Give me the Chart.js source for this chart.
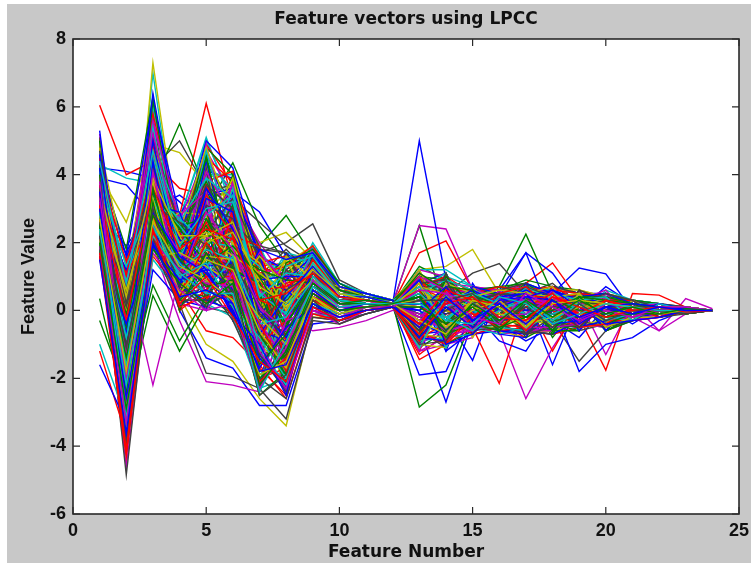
<!DOCTYPE html>
<html>
<head>
<meta charset="utf-8">
<script src="https://cdn.jsdelivr.net/npm/chart.js@4"></script>
<style>
html, body { margin: 0; padding: 0; background: #fff; overflow: hidden; }
canvas { position: absolute; left: 7px; top: 4px; filter: blur(0.4px); }
</style>
</head>
<body>
<canvas id="lpcc-chart" width="744" height="559"></canvas>
<script>
const featureNumbers = [1,2,3,4,5,6,7,8,9,10,11,12,13,14,15,16,17,18,19,20,21,22,23,24];
const xTickValues = [0,5,10,15,20,25];
const yTickValues = [-6,-4,-2,0,2,4,6,8];
const lineColors = ['#0000ff','#008000','#ff0000','#00bfbf','#bf00bf','#bfbf00','#404040'];

// lower body, short peaks
const lowLines = [
[1.5,-3.6,2.0,0.4,0.6,0.2,-1.8,-1.6,0.2,-0.2,0.0,0.1,-0.5,0.4,-0.3,0.2,-0.4,0.3,-0.2,0.1,-0.1,0.1,0.0,0.0],
[2.0,-2.9,1.8,0.8,0.2,0.8,-2.2,-1.2,0.5,0.0,0.1,0.2,0.4,-0.6,0.2,-0.3,0.3,-0.2,0.3,-0.1,0.1,-0.1,0.05,0.0],
[1.7,-4.1,2.4,0.2,1.0,-0.2,-1.5,-2.1,0.1,-0.3,0.0,0.1,-0.7,0.2,0.4,-0.2,-0.3,0.4,0.1,-0.2,0.0,0.1,-0.05,0.0],
[2.4,-2.2,2.2,1.1,0.5,0.5,-2.4,-0.9,0.7,0.1,0.2,0.2,0.2,-0.3,-0.4,0.4,0.2,-0.4,-0.1,0.2,0.1,0.0,0.0,0.0],
[1.9,-3.3,1.7,0.6,0.0,1.1,-1.2,-2.3,0.0,-0.2,0.1,0.1,0.6,0.5,-0.2,-0.4,0.5,0.1,-0.3,0.0,-0.2,0.1,0.1,0.0],
[2.7,-1.8,2.6,1.3,0.9,0.3,-1.9,-1.5,0.4,-0.1,0.1,0.2,-0.3,-0.7,0.3,0.1,-0.5,0.2,0.3,0.2,0.1,-0.1,0.0,0.0],
[2.2,-3.9,2.1,0.3,0.3,0.6,-2.5,-1.9,0.3,-0.4,-0.1,0.1,0.3,0.3,0.5,-0.3,0.1,-0.5,0.2,-0.3,0.0,0.0,-0.1,0.0],
[3.0,-2.6,1.9,0.9,1.2,-0.1,-1.0,-2.5,0.6,0.0,0.2,0.2,-0.8,0.1,-0.5,0.3,0.4,0.3,-0.4,0.1,0.2,0.1,0.05,0.0],
[2.5,-1.4,2.8,1.5,0.7,0.9,-1.6,-0.7,0.8,0.2,0.2,0.1,0.1,-0.4,0.1,-0.5,-0.2,0.0,0.4,-0.2,-0.1,-0.1,0.0,0.0],
[1.6,-4.3,2.3,0.1,0.4,0.4,-2.1,-1.4,-0.1,-0.3,0.0,0.1,-0.4,0.6,0.3,0.2,-0.6,0.2,-0.1,0.3,0.1,0.0,0.0,0.0],
[2.9,-3.1,2.5,1.0,1.4,0.1,-0.8,-2.0,0.2,-0.1,0.1,0.2,0.5,-0.2,-0.6,0.0,0.3,-0.3,0.2,-0.3,0.0,0.1,-0.05,0.0],
[3.3,-2.0,2.0,1.2,0.8,0.7,-2.3,-1.1,0.9,0.1,0.2,0.2,-0.2,0.5,0.2,-0.2,-0.1,0.4,-0.2,0.0,-0.2,0.0,0.05,0.0],
[2.1,-3.5,2.7,0.5,1.5,1.2,-0.6,-1.7,0.4,-0.2,0.1,0.1,0.8,-0.5,0.0,0.3,-0.4,-0.2,0.1,0.2,0.1,-0.1,0.0,0.0],
[2.6,-1.1,3.0,0.7,0.1,1.4,-1.3,-2.4,0.5,0.0,0.0,0.2,-0.6,0.0,0.4,-0.4,0.2,0.1,0.3,-0.1,0.1,0.1,-0.05,0.0],
[3.5,-3.8,2.9,1.6,1.1,0.0,-1.7,-0.5,0.1,-0.3,0.1,0.1,0.0,0.7,-0.3,0.4,0.5,-0.4,-0.3,0.1,-0.1,0.0,0.1,0.0],
[1.8,-2.4,3.2,0.0,1.7,0.5,-2.0,-1.3,0.7,0.2,0.3,0.2,0.4,-0.8,0.3,0.1,-0.2,0.3,0.0,-0.2,0.2,-0.1,0.0,0.0],
[3.1,-4.0,2.2,0.4,2.0,1.0,-0.4,-1.8,0.3,-0.1,0.1,0.1,-0.9,0.3,-0.1,-0.5,0.1,0.5,-0.2,0.3,0.0,0.1,0.05,0.0],
[2.3,-0.8,2.4,1.4,0.5,1.6,-1.1,-2.2,1.0,0.3,0.2,0.2,0.7,0.1,0.5,0.2,-0.5,-0.1,0.2,-0.3,-0.1,0.0,-0.05,0.0],
[3.8,-3.0,3.1,0.2,0.0,0.2,-2.4,-0.3,0.0,-0.4,0.0,0.1,-0.1,-0.6,-0.4,0.3,0.4,0.2,-0.4,0.2,0.1,-0.1,0.0,0.0],
[2.8,-2.7,1.6,1.7,1.3,0.8,-0.2,-1.0,0.6,0.1,0.2,0.2,0.3,0.4,0.1,-0.1,-0.3,-0.3,0.3,0.0,-0.2,0.1,0.1,0.0],
[2.3,-3.4,1.9,0.1,0.8,-0.3,-2.0,-2.6,-0.2,-0.3,-0.1,0.1,-1.0,-0.9,0.2,0.5,-0.7,0.1,-0.5,0.2,-0.2,0.1,0.0,0.0],
[1.6,-2.1,2.5,0.7,0.3,0.0,-1.4,-2.3,0.1,-0.1,0.0,0.1,0.9,-1.0,-0.7,0.1,0.4,0.6,0.1,-0.4,-0.3,-0.2,0.0,0.0],
[2.0,-4.2,2.0,0.3,1.1,0.4,-2.5,-1.8,0.2,-0.3,0.0,0.1,-0.8,0.7,0.6,-0.6,0.2,-0.6,0.4,0.3,0.2,0.1,-0.1,0.0],
[2.7,-3.7,2.8,0.0,0.6,0.9,-1.7,-2.5,0.4,0.0,0.1,0.2,0.6,-0.9,-0.2,0.5,0.7,0.0,-0.5,-0.4,0.1,-0.2,0.1,0.0],
[1.9,-1.6,1.8,1.0,0.2,-0.2,-2.3,-2.0,-0.1,-0.2,0.0,0.1,-1.1,0.4,0.5,-0.5,-0.6,0.5,0.3,0.4,-0.3,0.2,0.0,0.0],
[3.2,-4.3,2.6,0.5,0.9,0.7,-0.9,-2.4,0.5,0.1,0.1,0.1,1.0,0.6,-0.6,0.3,-0.5,-0.5,-0.4,0.2,0.2,-0.1,0.0,0.0],
[2.4,-2.8,3.3,0.2,1.6,1.5,-1.8,-1.6,0.3,-0.2,0.0,0.2,-0.7,-0.8,0.4,0.6,0.5,0.4,0.5,-0.5,-0.2,0.1,0.05,0.0],
[3.6,-3.3,2.3,1.2,0.1,-0.1,-2.1,-1.0,0.0,-0.3,0.0,0.1,0.8,0.9,-0.5,-0.4,-0.7,-0.2,0.2,0.5,0.3,-0.2,-0.1,0.0],
[1.7,-0.4,2.1,0.8,1.3,0.6,-1.3,-2.2,0.6,0.1,0.1,0.2,-0.9,0.2,0.6,0.2,0.6,0.3,-0.5,-0.3,-0.1,0.2,0.05,0.0],
[4.0,-3.6,3.6,0.6,0.4,1.3,-0.7,-1.9,0.2,-0.2,0.1,0.1,0.5,-0.7,-0.4,-0.6,0.3,-0.6,0.4,0.4,0.2,0.0,0.0,0.0]
];

// middle of the band
const midLines = [
[3.4,-0.3,3.6,1.8,2.4,2.1,0.3,0.5,1.1,0.4,0.3,0.2,-0.4,0.6,-0.2,0.3,-0.3,0.4,-0.1,0.2,0.1,0.0,0.0,0.0],
[2.9,-1.6,3.3,1.2,1.8,1.5,-0.4,-0.2,0.9,0.3,0.2,0.2,0.5,-0.3,0.4,-0.2,0.2,-0.2,0.3,-0.1,-0.1,0.1,0.05,0.0],
[4.0,-2.3,4.1,0.9,2.9,1.8,0.1,-0.6,0.7,0.2,0.3,0.1,-0.2,0.2,-0.5,0.4,0.3,0.1,-0.3,0.2,0.0,-0.1,0.0,0.0],
[3.6,0.4,3.9,2.2,2.2,2.6,0.7,0.2,1.2,0.5,0.3,0.2,0.1,-0.5,0.3,-0.3,-0.4,0.3,0.2,-0.2,0.1,0.1,-0.05,0.0],
[3.2,-1.0,2.7,1.5,1.6,1.3,0.2,-1.0,0.6,0.2,0.2,0.2,-0.7,0.4,0.1,0.2,0.4,-0.4,0.1,0.3,-0.1,0.0,0.0,0.0],
[4.2,-3.4,4.4,0.7,3.3,2.9,-0.7,0.4,1.3,0.4,0.4,0.2,0.3,0.1,-0.3,-0.4,0.1,0.2,-0.2,-0.1,0.2,0.1,0.05,0.0],
[2.7,-0.5,3.5,2.4,1.4,1.9,1.0,-0.4,0.8,0.3,0.2,0.1,0.6,-0.4,0.5,0.1,-0.2,-0.3,0.3,0.1,0.0,-0.1,0.0,0.0],
[3.7,-2.0,3.0,1.0,2.6,1.1,-0.9,0.8,1.0,0.3,0.3,0.2,-0.5,0.7,-0.1,-0.2,0.5,0.3,-0.4,0.2,-0.1,0.1,-0.05,0.0],
[4.4,0.8,4.7,1.9,3.0,3.2,0.5,-0.1,1.4,0.5,0.4,0.2,0.2,-0.2,0.2,0.3,-0.1,0.1,0.2,-0.3,0.1,0.0,0.0,0.0],
[3.0,-1.3,2.9,1.7,1.1,0.9,-0.5,-1.3,0.5,0.1,0.1,0.2,-0.3,0.3,-0.4,0.2,0.3,-0.2,0.0,0.2,0.2,-0.1,0.05,0.0],
[3.9,-2.8,3.8,0.6,2.0,2.3,0.9,0.1,0.9,0.4,0.3,0.1,0.7,0.5,0.3,-0.1,-0.5,0.4,-0.1,-0.2,0.0,0.1,0.0,0.0],
[2.4,0.1,3.1,2.6,1.9,0.6,-1.4,0.6,1.1,0.2,0.2,0.2,-0.6,-0.1,0.1,0.4,0.2,-0.1,0.4,0.1,-0.2,0.0,-0.05,0.0],
[4.6,-1.8,5.0,1.3,3.6,2.4,0.0,-0.8,1.2,0.4,0.3,0.2,0.0,-0.6,-0.3,-0.3,0.4,0.2,0.1,0.0,0.1,0.1,0.0,0.0],
[3.3,-3.2,3.4,0.8,2.7,1.7,1.2,0.9,0.8,0.3,0.2,0.1,0.4,0.2,0.4,0.2,-0.3,-0.3,-0.2,0.3,0.0,-0.1,0.05,0.0],
[3.5,1.0,2.8,2.3,1.0,1.0,-1.0,-0.3,1.5,0.5,0.4,0.2,-0.2,0.4,-0.2,-0.4,0.1,0.3,0.3,-0.2,0.1,0.0,0.0,0.0],
[4.1,-0.9,4.5,1.6,2.8,3.4,0.4,1.1,1.0,0.4,0.3,0.2,0.3,-0.3,0.5,0.1,0.3,-0.2,-0.3,0.1,-0.1,0.1,-0.05,0.0],
[2.8,-2.5,3.7,1.1,1.7,0.4,-0.3,-1.6,0.6,0.1,0.2,0.1,-0.4,0.6,0.0,0.3,-0.6,0.1,0.2,0.2,0.2,-0.1,0.0,0.0],
[3.1,0.6,3.2,2.0,2.3,2.0,1.4,0.0,1.3,0.5,0.3,0.2,0.6,0.0,-0.4,-0.2,0.2,0.4,0.0,-0.3,0.0,0.0,0.05,0.0],
[4.3,-1.2,4.2,0.5,3.1,2.7,-0.2,0.3,0.7,0.2,0.2,0.2,-0.1,-0.4,0.3,0.5,0.4,-0.1,-0.2,0.1,0.1,0.1,0.0,0.0],
[3.6,-3.7,3.5,1.4,1.3,1.4,-0.6,-0.9,0.9,0.3,0.3,0.1,0.2,0.3,0.2,-0.3,-0.1,0.2,0.3,0.0,-0.1,-0.1,-0.05,0.0],
[2.6,-0.1,2.6,1.9,2.5,1.2,0.8,-0.5,1.1,0.4,0.2,0.2,-0.5,0.5,-0.3,0.1,0.3,-0.3,0.1,0.2,0.1,0.0,0.0,0.0],
[4.5,-2.1,4.9,1.0,3.4,2.2,0.6,0.7,1.2,0.3,0.3,0.2,0.1,-0.2,0.4,-0.1,-0.4,0.3,-0.3,-0.1,0.0,0.1,0.05,0.0],
[3.8,1.3,3.3,2.5,1.5,0.7,-1.2,0.2,0.8,0.2,0.2,0.1,0.4,0.2,-0.1,0.2,0.1,0.0,0.2,0.1,-0.2,0.0,0.0,0.0],
[2.2,-1.5,4.0,0.9,2.1,2.5,0.1,-1.1,0.5,0.1,0.1,0.2,-0.3,-0.5,0.2,-0.3,0.2,0.2,-0.1,-0.2,0.1,-0.1,0.0,0.0],
[3.4,-2.7,3.0,1.8,2.2,1.6,1.1,0.5,1.4,0.5,0.4,0.2,0.5,0.4,0.3,0.3,-0.3,-0.4,0.2,0.3,0.0,0.1,-0.05,0.0],
[4.7,0.3,4.3,1.2,3.7,3.0,-0.1,-0.7,0.9,0.3,0.2,0.1,-0.6,0.1,-0.2,-0.1,0.5,0.1,0.0,0.0,0.1,0.0,0.0,0.0],
[3.2,-0.7,3.6,2.1,1.2,1.1,0.9,1.0,1.0,0.4,0.3,0.2,0.2,-0.1,0.1,0.4,0.0,0.3,-0.2,0.2,-0.1,0.1,0.05,0.0],
[2.5,-3.0,2.8,1.3,2.4,0.3,-0.8,-1.4,0.6,0.2,0.1,0.2,-0.2,0.3,-0.5,-0.2,-0.2,-0.2,0.1,-0.1,0.2,-0.1,0.0,0.0],
[4.0,-1.9,4.6,0.6,1.6,2.8,0.3,0.0,1.1,0.4,0.3,0.1,0.3,-0.4,0.3,0.1,0.3,0.2,0.3,-0.2,0.0,0.0,0.0,0.0],
[3.3,0.9,3.4,2.7,2.0,1.9,1.3,0.4,1.3,0.5,0.3,0.2,-0.1,0.2,0.0,-0.3,0.1,-0.1,-0.1,0.1,0.1,0.1,-0.05,0.0],
[2.1,-0.2,2.4,0.4,0.7,1.7,0.6,-0.2,0.4,0.0,0.1,0.1,0.9,-0.7,-0.6,0.4,-0.6,0.5,-0.4,0.4,-0.2,0.2,0.0,0.0],
[3.0,-2.2,2.5,0.2,1.9,0.5,1.6,0.7,-0.1,-0.2,0.0,0.1,-0.9,0.8,0.5,-0.5,0.6,-0.5,0.5,-0.4,0.3,-0.1,0.1,0.0],
[2.5,0.7,2.9,0.0,2.6,2.4,-1.1,1.2,0.3,0.0,0.1,0.2,0.7,0.5,-0.7,0.2,0.7,0.4,-0.3,-0.5,-0.3,0.1,-0.1,0.0],
[3.7,-1.1,3.1,2.9,0.9,0.2,1.8,1.5,1.7,0.7,0.5,0.3,-0.8,-0.9,0.6,-0.6,-0.7,0.0,0.4,0.5,0.2,-0.2,0.0,0.0],
[1.8,-2.9,2.2,1.6,3.0,-0.1,0.5,-1.2,1.2,0.6,0.4,0.2,1.1,0.6,0.2,0.5,0.4,-0.6,0.2,-0.4,-0.1,0.2,0.05,0.0],
[4.2,1.4,4.0,0.3,0.3,3.0,1.0,-1.5,-0.1,-0.3,0.0,0.1,-0.6,-1.0,-0.2,-0.4,-0.5,0.5,-0.5,0.3,0.3,-0.2,0.0,0.0],
[2.3,-1.7,3.4,1.9,1.0,1.3,-1.6,1.3,1.6,0.5,0.3,0.2,0.5,0.9,0.6,0.3,0.6,-0.4,0.5,-0.2,-0.3,0.1,-0.05,0.0],
[3.5,-0.6,2.6,0.5,3.2,0.6,1.7,0.8,0.2,-0.1,0.1,0.1,-1.0,-0.5,-0.6,0.6,-0.4,0.6,-0.2,0.4,0.1,0.2,0.0,0.0],
[2.0,-3.5,4.3,2.2,0.8,2.0,-0.2,1.6,0.9,0.7,0.4,0.2,0.8,-0.8,0.3,-0.5,0.5,0.2,0.4,-0.5,-0.2,-0.2,0.1,0.0],
[3.9,0.2,3.2,1.3,2.3,3.3,1.5,-1.8,1.5,0.6,0.3,0.2,-0.7,0.7,-0.5,0.1,-0.7,-0.5,-0.4,0.3,0.3,0.1,-0.1,0.0],
[1.6,-1.0,2.7,0.1,1.4,-0.2,0.8,0.6,0.0,-0.2,0.0,0.1,0.4,-0.6,0.7,0.5,0.2,0.6,0.3,0.2,-0.2,0.0,0.05,0.0],
[3.2,-2.4,3.9,2.5,2.7,1.0,-0.6,1.4,1.8,0.8,0.4,0.3,-0.9,1.0,0.1,-0.6,0.4,-0.3,-0.5,-0.3,0.2,-0.2,0.0,0.0],
[2.6,1.1,3.7,0.8,0.6,2.2,1.9,-0.9,0.6,0.2,0.2,0.2,1.0,-0.2,-0.7,0.4,-0.6,0.3,0.5,0.4,-0.1,0.1,-0.05,0.0],
[4.4,-3.0,2.9,1.1,1.2,3.6,-0.5,0.3,1.7,0.7,0.5,0.2,-0.5,0.8,0.5,-0.3,0.7,-0.6,0.1,-0.4,0.2,0.2,0.0,0.0],
[2.9,-0.3,2.3,2.8,3.5,0.1,1.2,1.1,0.0,-0.2,0.1,0.1,0.6,-0.9,-0.4,0.6,-0.3,0.5,-0.3,0.5,-0.3,-0.1,0.1,0.0],
[1.9,-2.6,3.0,0.2,2.5,1.8,-1.0,-1.7,1.4,0.6,0.3,0.2,-1.1,0.3,0.6,0.2,0.3,0.2,0.4,-0.2,0.1,0.0,-0.05,0.0],
[3.6,0.5,4.4,1.5,0.4,2.6,1.8,1.7,0.3,0.0,0.2,0.1,0.7,0.7,-0.6,-0.5,0.6,-0.4,-0.5,0.3,0.2,0.1,0.0,0.0],
[2.2,-1.3,2.5,2.0,3.1,-0.3,0.4,0.9,1.6,0.8,0.4,0.3,-0.4,-0.7,0.4,0.4,-0.7,0.6,0.2,-0.5,-0.2,-0.1,0.05,0.0],
[4.1,-3.9,3.5,0.4,1.8,3.1,-1.5,-0.6,0.2,-0.1,0.1,0.1,0.9,0.4,0.2,-0.6,0.5,0.3,-0.4,0.4,0.3,0.2,-0.1,0.0],
[3.0,1.5,2.2,1.8,2.9,0.9,1.1,1.3,1.9,0.7,0.5,0.2,-0.8,-0.4,-0.5,0.3,-0.5,-0.5,0.3,-0.3,-0.3,-0.2,0.0,0.0]
];

// fills the wide part of the band between features 4 and 9
const wideLines = [
[3.1,-1.4,3.8,2.6,3.9,3.3,0.2,-1.9,1.0,0.6,0.4,0.2,0.6,-1.1,0.5,-0.6,0.7,0.3,-0.5,0.4,-0.2,0.2,0.05,0.0],
[2.5,-2.5,2.4,1.4,4.1,2.7,-1.7,-0.4,1.8,0.7,0.4,0.3,-1.2,0.8,-0.7,0.5,-0.6,-0.6,0.5,-0.5,0.3,-0.1,0.0,0.0],
[4.3,0.0,4.8,0.0,2.3,3.9,0.7,1.5,0.1,-0.2,0.1,0.1,1.2,-0.4,0.7,-0.2,0.5,0.7,-0.3,0.5,0.2,0.1,-0.1,0.0],
[1.7,-3.2,1.9,2.4,3.6,0.0,-2.3,0.5,1.5,0.5,0.3,0.2,-0.8,1.1,-0.6,0.6,0.8,-0.4,0.6,-0.4,-0.3,0.2,0.1,0.0],
[3.4,1.1,3.0,0.3,1.5,3.5,1.7,-1.3,0.4,0.0,0.1,0.1,0.9,-0.9,0.6,-0.7,-0.8,0.5,-0.6,0.3,0.3,-0.2,0.0,0.0],
[2.8,-1.9,4.6,1.7,4.5,1.4,-0.3,-2.1,1.3,0.6,0.4,0.2,-1.1,0.6,-0.5,0.3,0.6,-0.7,0.4,0.5,-0.2,0.1,-0.05,0.0],
[3.9,-0.7,2.7,2.1,0.2,2.9,1.3,1.0,-0.2,-0.3,0.0,0.1,0.7,1.0,0.5,-0.6,-0.5,0.6,0.5,-0.5,0.2,-0.1,0.05,0.0],
[2.2,-4.0,3.6,0.1,3.4,0.5,-2.1,0.0,1.7,0.8,0.5,0.3,-0.9,-0.8,-0.7,0.5,0.7,0.4,-0.6,0.4,0.3,0.2,0.0,0.0],
[4.5,0.6,5.2,2.0,1.0,3.8,0.2,-1.1,0.7,0.2,0.2,0.2,1.1,0.5,0.6,0.4,-0.7,-0.5,0.3,0.6,-0.3,-0.2,0.1,0.0],
[1.9,-2.3,2.2,2.9,2.8,1.7,-1.2,1.4,1.9,0.7,0.5,0.3,-1.0,-1.1,0.4,-0.7,0.4,0.6,-0.5,-0.4,0.2,0.1,-0.1,0.0],
[3.6,-1.6,4.2,0.4,4.2,-0.1,1.5,-0.8,0.0,-0.3,0.0,0.1,0.8,0.9,-0.7,0.6,-0.6,-0.7,0.6,0.3,-0.2,0.2,0.0,0.0],
[2.7,1.7,3.3,1.1,0.0,3.1,-0.9,0.6,1.4,0.5,0.3,0.2,-0.7,-0.6,0.7,-0.5,0.8,0.5,0.4,-0.6,0.3,-0.1,0.05,0.0],
[4.0,-3.3,2.6,2.3,3.8,2.2,0.9,-1.6,0.9,0.3,0.2,0.2,1.0,-1.0,-0.6,0.4,-0.8,-0.4,-0.6,0.5,0.2,0.1,0.0,0.0],
[1.5,-0.9,3.9,0.7,1.7,0.3,-2.4,1.2,0.5,0.1,0.2,0.1,-1.2,0.7,0.5,0.7,0.6,0.7,0.3,-0.3,-0.3,-0.2,0.1,0.0],
[3.3,-2.1,5.4,1.4,4.7,2.0,1.9,0.3,2.0,0.8,0.5,0.3,0.6,1.1,-0.5,-0.7,-0.5,0.4,-0.4,0.6,0.3,0.2,-0.05,0.0],
[2.4,0.3,2.1,2.7,2.4,3.7,-1.5,-2.0,1.2,0.5,0.3,0.2,-0.9,-0.7,0.7,0.3,0.7,-0.6,0.6,-0.5,-0.2,-0.1,0.0,0.0],
[4.8,-2.8,4.5,0.0,3.3,0.8,0.0,1.5,0.1,-0.1,0.1,0.1,1.1,0.6,-0.8,0.6,-0.7,0.5,-0.5,0.4,0.2,0.1,0.05,0.0],
[2.0,-1.2,3.5,1.9,0.7,2.8,1.6,-0.6,1.6,0.6,0.4,0.2,-1.0,0.8,0.4,-0.6,0.5,0.7,0.5,-0.4,0.3,-0.2,0.0,0.0],
[3.8,1.0,2.4,0.9,4.4,1.2,-2.2,0.9,0.8,0.2,0.2,0.2,0.9,-1.2,-0.6,0.5,-0.6,-0.7,-0.3,0.5,-0.1,0.2,-0.05,0.0],
[2.6,-3.8,4.1,2.5,1.9,4.0,0.5,-2.4,1.1,0.4,0.3,0.2,-0.6,0.9,0.6,0.7,0.8,0.3,0.5,-0.6,0.2,-0.1,0.1,0.0],
[3.5,-0.1,3.1,0.5,2.9,-0.2,1.4,1.6,0.6,0.1,0.1,0.1,0.8,-0.8,-0.7,-0.5,-0.4,0.6,-0.6,0.3,-0.3,0.1,0.0,0.0],
[1.8,-2.0,2.8,1.6,3.9,1.9,-1.9,-1.2,1.9,0.8,0.5,0.3,-1.1,0.5,0.5,0.4,0.6,-0.5,0.4,0.4,0.3,0.2,-0.1,0.0],
[4.6,0.7,5.6,2.6,0.5,3.4,0.8,0.1,0.3,0.0,0.1,0.1,1.2,1.0,-0.4,-0.7,0.7,0.5,-0.4,-0.5,-0.2,-0.2,0.05,0.0],
[2.3,-3.1,3.2,0.6,4.3,0.9,-0.8,1.3,1.3,0.5,0.3,0.2,-0.8,-0.9,0.7,0.5,-0.7,-0.6,0.6,0.4,0.2,0.1,0.0,0.0],
[3.7,-1.5,2.5,2.2,1.3,2.5,1.7,-2.2,1.5,0.6,0.4,0.2,0.7,0.7,-0.6,0.6,0.5,0.6,-0.5,-0.3,-0.3,0.2,0.1,0.0],
[2.9,1.2,4.9,1.2,3.4,3.6,-1.1,0.2,0.4,0.1,0.2,0.1,-1.0,-0.5,0.5,-0.6,-0.6,-0.4,0.5,0.5,0.2,-0.1,-0.05,0.0],
[4.2,-4.1,3.4,0.1,2.1,0.1,1.0,1.1,1.7,0.7,0.4,0.3,1.0,0.9,-0.7,0.2,0.8,0.5,0.3,-0.6,-0.2,0.1,0.0,0.0],
[1.6,-0.6,2.2,1.9,3.7,2.3,-2.4,-0.7,0.0,-0.2,0.0,0.1,-0.7,-1.0,0.6,-0.7,-0.5,0.7,-0.6,0.3,0.3,0.2,0.05,0.0],
[3.3,-2.7,4.7,2.8,0.8,3.2,0.4,1.6,1.4,0.5,0.3,0.2,0.9,0.6,-0.5,0.5,0.6,-0.7,0.4,0.5,-0.3,-0.1,0.0,0.0],
[2.7,0.4,2.6,0.3,4.0,1.5,1.8,-1.4,0.7,0.2,0.2,0.2,-1.2,0.8,0.7,0.6,-0.7,0.4,-0.5,-0.4,0.2,0.1,-0.05,0.0],
[4.4,-1.1,3.7,1.0,2.7,3.9,-1.6,0.8,1.8,0.8,0.5,0.3,1.1,-0.7,-0.4,-0.6,0.4,0.6,0.6,0.4,0.3,-0.2,0.1,0.0],
[2.1,-3.5,5.1,2.4,1.6,0.4,0.9,-2.3,0.2,-0.1,0.1,0.1,-0.6,-1.1,0.6,0.4,0.7,-0.5,-0.4,-0.5,-0.2,0.2,0.0,0.0],
[3.9,1.6,3.0,0.6,3.6,2.4,-0.4,1.7,1.0,0.4,0.3,0.2,0.8,1.1,-0.7,-0.5,-0.6,0.7,0.5,0.3,0.2,-0.1,0.05,0.0],
[2.5,-1.8,2.3,1.5,4.6,1.0,1.3,-0.2,1.6,0.6,0.4,0.2,-1.1,-0.6,0.5,0.7,0.5,-0.6,-0.6,0.4,-0.3,0.1,0.0,0.0],
[3.0,-0.4,4.3,2.7,0.4,3.0,-2.0,-1.7,0.5,0.1,0.2,0.1,1.0,0.7,0.6,-0.4,-0.8,0.4,0.4,-0.5,0.3,0.2,-0.1,0.0],
[4.1,-2.4,2.8,0.2,3.2,1.6,1.6,1.0,1.2,0.5,0.3,0.2,-0.9,0.9,-0.6,0.5,0.7,0.6,-0.5,0.5,0.1,-0.2,0.0,0.0],
[1.8,0.9,3.6,1.3,2.2,-0.3,-1.4,0.4,0.8,0.3,0.2,0.2,0.7,-0.8,0.7,-0.7,-0.6,-0.5,0.6,-0.3,-0.2,0.1,0.05,0.0],
[3.4,-3.0,4.9,2.3,4.8,2.6,0.3,-2.5,1.5,0.6,0.4,0.2,-0.8,1.0,-0.5,0.6,0.6,0.3,-0.4,0.4,0.3,-0.1,0.0,0.0],
[2.2,-1.0,2.0,0.5,1.2,3.3,1.9,1.7,0.1,-0.1,0.1,0.1,1.2,-0.9,0.4,0.3,-0.7,0.7,0.5,-0.4,-0.2,0.2,-0.05,0.0],
[4.7,0.2,4.0,1.7,3.0,0.7,-1.0,-0.5,1.9,0.7,0.5,0.3,-1.0,0.6,-0.7,-0.6,0.8,-0.4,-0.5,0.5,0.2,-0.1,0.1,0.0],
[2.6,-2.2,3.3,2.8,0.3,2.3,1.1,0.3,1.1,0.4,0.3,0.2,0.9,-1.0,0.6,0.5,-0.5,0.6,0.3,-0.6,-0.3,0.1,0.0,0.0],
[3.7,-3.9,5.3,0.4,3.8,4.1,-2.3,1.4,0.3,0.0,0.1,0.1,-0.7,0.8,0.5,-0.7,0.6,-0.7,0.6,0.3,0.2,0.2,-0.05,0.0],
[1.7,1.3,2.5,1.8,2.5,0.0,1.5,-1.5,1.6,0.6,0.4,0.2,1.1,0.4,-0.6,0.4,-0.4,0.5,-0.6,0.4,-0.2,-0.2,0.0,0.0],
[3.2,-1.3,4.4,0.8,4.9,1.8,-0.1,0.7,0.6,0.2,0.2,0.2,-1.2,-0.8,0.7,0.6,0.7,0.4,0.4,-0.5,0.3,0.1,0.1,0.0],
[2.8,-0.2,2.9,2.1,1.1,3.7,0.6,-2.2,1.3,0.5,0.3,0.2,0.8,1.1,-0.5,-0.5,-0.7,-0.6,-0.4,0.5,0.2,-0.1,-0.05,0.0],
[4.3,-2.6,3.1,1.2,4.0,2.0,1.2,1.2,1.8,0.7,0.5,0.3,-0.9,-0.7,0.6,0.7,0.5,0.7,0.5,-0.3,-0.3,0.2,0.0,0.0]
];

// top of the band, tall peaks at 3, 5 and 6
const highLines = [
[5.3,-0.6,6.4,2.1,5.0,4.2,1.6,1.2,1.8,0.7,0.5,0.3,0.9,0.7,-0.4,0.5,0.6,-0.3,0.4,0.2,-0.1,0.1,0.05,0.0],
[5.0,-1.5,6.2,1.8,4.8,4.0,0.9,1.5,1.6,0.6,0.4,0.2,-0.6,0.8,0.3,-0.5,0.4,0.5,-0.2,0.3,0.2,-0.1,0.1,0.0],
[4.8,0.5,5.8,2.4,4.5,3.8,1.8,0.6,1.7,0.6,0.5,0.3,0.8,-0.7,0.5,0.4,-0.5,0.3,0.3,-0.2,0.1,0.1,0.0,0.0],
[4.7,-2.6,6.0,1.5,4.3,3.6,0.5,1.7,1.5,0.7,0.4,0.2,-0.8,0.5,-0.6,-0.4,0.7,-0.4,-0.3,0.1,-0.1,0.0,-0.05,0.0],
[5.2,-1.0,5.5,2.6,4.7,3.4,2.0,0.9,1.9,0.8,0.5,0.3,0.6,0.9,0.4,0.3,0.5,0.4,0.2,0.3,0.2,0.1,0.05,0.0],
[4.9,1.2,5.3,2.0,3.9,4.1,1.1,1.3,1.4,0.5,0.4,0.2,-0.5,-0.6,0.6,-0.3,-0.4,0.5,-0.4,-0.3,0.0,-0.1,0.0,0.0],
[4.6,-3.1,5.7,1.1,4.4,3.1,-0.4,1.6,1.6,0.6,0.5,0.3,1.0,0.4,-0.2,0.4,0.3,-0.5,0.4,0.2,0.1,0.1,0.1,0.0],
[4.4,1.6,6.1,2.8,4.1,3.9,1.5,-0.1,1.3,0.5,0.3,0.2,0.4,-0.8,0.2,-0.4,0.6,0.3,-0.1,-0.2,-0.1,0.0,0.0,0.0],
[5.1,-0.2,5.1,2.3,4.6,2.8,0.2,1.0,1.8,0.7,0.5,0.3,-0.7,0.6,0.5,0.5,-0.6,0.1,0.3,0.3,0.2,-0.1,-0.05,0.0],
[4.5,-1.7,4.8,1.7,4.9,3.7,1.3,1.4,1.5,0.6,0.4,0.2,0.7,0.3,-0.5,-0.5,0.2,-0.4,-0.4,0.1,0.0,0.1,0.05,0.0],
[4.8,-2.2,5.6,0.8,4.0,4.0,-0.9,-1.0,0.8,0.3,0.3,0.2,1.2,1.2,0.7,0.2,-0.3,0.6,-0.5,0.4,-0.1,0.2,0.0,0.0],
[4.3,0.9,5.9,2.5,3.8,3.3,1.7,-0.3,1.1,0.4,0.3,0.2,-1.2,-1.0,-0.8,0.6,0.8,-0.6,0.5,-0.5,0.2,-0.1,0.1,0.0],
[5.0,-3.6,5.2,1.4,4.2,2.5,-1.3,0.7,0.4,0.1,0.2,0.1,1.1,-1.1,0.4,-0.6,-0.8,0.5,0.4,0.5,0.3,0.2,-0.1,0.0],
[4.6,-0.4,5.4,0.4,3.5,3.7,1.0,1.8,1.0,0.4,0.3,0.2,-1.0,1.1,-0.6,0.5,0.5,0.4,-0.6,-0.4,-0.3,0.0,0.05,0.0],
[4.9,-1.2,4.6,2.2,4.4,2.9,-1.8,-1.4,0.5,0.0,0.1,0.1,0.5,-1.2,0.8,-0.4,-0.9,-0.5,0.3,0.4,0.2,-0.2,0.0,0.0],
[4.2,1.8,6.3,0.9,3.3,3.5,1.4,0.2,1.2,0.5,0.3,0.2,1.3,0.9,-0.3,0.6,0.9,0.7,0.6,-0.6,-0.2,0.1,0.1,0.0],
[5.1,-2.9,5.0,1.6,3.7,2.1,-1.4,-2.2,0.3,-0.2,0.0,0.1,-1.3,-0.7,0.6,0.6,-0.6,-0.7,-0.5,0.5,0.3,-0.2,-0.05,0.0],
[4.3,0.0,4.9,2.7,5.0,3.2,1.6,1.1,1.5,0.6,0.4,0.2,0.6,1.0,0.7,-0.7,0.7,0.6,0.5,-0.4,-0.3,0.2,0.0,0.0]
];

// single lines that stand out of the band
const outlierLines = [
[6.05,4.0,4.4,3.6,3.4,2.5,1.0,0.3,1.2,0.5,0.4,0.2,0.6,0.2,-0.2,0.1,0.3,-0.1,0.2,0.0,0.1,0.0,0.0,0.0],
[3.2,0.8,3.7,5.5,3.5,2.4,0.8,0.9,1.3,0.5,0.3,0.2,-0.3,0.4,0.3,-0.2,0.2,0.3,0.1,-0.1,0.1,0.1,0.0,0.0],
[3.0,1.5,4.2,5.0,3.6,3.3,2.6,1.9,1.4,0.6,0.3,0.2,0.2,-0.2,0.1,0.4,-0.1,0.2,-0.3,0.1,0.0,0.0,0.05,0.0],
[4.0,2.6,4.9,4.65,3.7,3.0,2.0,2.3,1.5,0.6,0.4,0.2,-0.2,0.3,0.2,-0.3,0.3,0.1,0.2,0.2,-0.1,0.0,0.0,0.0],
[3.5,0.4,5.0,2.8,6.1,3.2,1.3,0.7,1.0,0.4,0.3,0.2,0.3,0.1,-0.3,0.3,0.1,0.4,-0.1,0.0,0.1,-0.1,0.0,0.0],
[4.3,3.9,3.75,2.7,5.1,3.0,1.1,0.5,0.9,0.4,0.3,0.2,-0.4,0.5,0.2,0.1,-0.3,-0.2,0.3,0.1,0.0,0.1,0.05,0.0],
[4.2,4.1,3.9,3.2,2.4,2.0,1.5,1.0,1.1,0.5,0.3,0.2,0.4,-0.3,0.4,-0.2,0.2,0.0,0.1,-0.2,0.1,0.0,0.0,0.0],
[3.9,3.7,2.8,2.0,1.3,1.8,0.6,0.4,0.8,0.4,0.2,0.2,0.1,0.2,-0.1,0.2,-0.2,0.3,-0.2,0.1,-0.1,0.1,0.0,0.0],
[3.1,-0.4,3.4,2.3,3.0,4.35,2.5,1.4,1.3,0.5,0.3,0.2,-0.2,0.0,0.3,-0.1,0.2,0.1,0.2,0.0,0.1,0.0,-0.05,0.0],
[2.8,1.9,3.0,3.4,2.8,3.5,2.9,1.6,1.2,0.5,0.3,0.2,0.3,-0.4,0.0,0.2,-0.3,-0.2,0.0,0.2,0.0,-0.1,0.0,0.0],
[3.3,1.0,3.8,2.5,2.2,2.1,1.9,2.8,1.6,0.6,0.4,0.2,-0.1,0.2,0.2,-0.2,0.1,0.2,-0.1,-0.1,0.1,0.0,0.05,0.0],
[3.0,-0.2,3.2,2.2,2.5,2.3,1.7,2.0,2.55,0.9,0.5,0.3,0.2,0.1,-0.2,0.3,0.0,-0.3,0.2,0.1,-0.1,0.1,0.0,0.0],
[2.6,1.2,-2.2,1.0,0.6,0.3,-0.4,-0.3,0.4,0.2,0.2,0.2,-0.3,0.3,0.1,-0.1,0.2,0.1,-0.2,0.0,0.1,0.0,0.0,0.0],
[0.35,-3.0,0.44,-1.2,0.2,0.5,-0.3,0.1,0.5,0.1,0.1,0.1,0.2,-0.2,0.3,0.1,-0.2,0.0,0.1,-0.1,0.0,0.0,0.0,0.0],
[-0.3,-2.4,0.75,-0.9,0.4,-0.1,0.3,-0.4,0.3,0.2,0.2,0.2,-0.2,0.1,-0.1,0.2,0.1,-0.1,0.0,0.1,0.1,0.0,0.0,0.0],
[-1.6,-3.3,1.2,0.3,0.1,0.6,-0.5,-0.2,0.4,0.1,0.1,0.1,0.1,-0.3,0.2,-0.1,0.0,0.2,-0.2,0.1,-0.1,0.0,0.0,0.0],
[-1.0,-3.2,1.5,0.5,0.3,0.4,-1.0,-0.8,0.2,0.0,0.1,0.1,-0.4,0.2,0.0,0.1,-0.1,0.1,0.1,-0.1,0.0,0.0,0.05,0.0],
[-1.2,-3.7,1.6,0.6,-0.6,-0.8,-1.6,-2.6,-0.1,-0.2,0.0,0.1,0.2,0.0,-0.2,-0.1,0.2,-0.2,0.0,0.0,0.0,0.0,0.0,0.0],
[2.4,-4.85,2.1,0.2,-1.85,-1.95,-2.3,-3.2,-0.3,-0.4,-0.1,0.1,-0.1,0.1,0.1,0.0,-0.1,0.1,-0.1,0.1,0.0,0.0,0.0,0.0],
[2.0,-4.6,1.9,-0.3,-2.1,-2.2,-2.4,-0.2,-0.6,-0.5,-0.3,0.0,0.1,-0.1,0.0,0.1,0.1,0.0,0.1,-0.1,0.0,0.0,0.0,0.0],
[1.9,-4.2,2.2,0.0,-1.4,-1.7,-2.8,-2.8,-0.4,-0.3,-0.1,0.1,0.3,-0.2,0.2,0.0,0.0,-0.1,0.2,0.0,0.1,0.0,0.0,0.0],
[2.3,-3.9,2.0,0.4,-1.0,-1.5,-2.6,-3.4,-0.2,-0.2,0.0,0.1,-0.2,0.2,-0.1,0.1,0.1,0.1,-0.1,0.1,-0.1,0.0,0.0,0.0],
[3.7,-1.4,7.3,1.9,3.2,2.6,0.6,0.8,1.0,0.4,0.3,0.2,0.4,0.0,0.1,-0.2,0.2,0.1,0.0,0.1,0.0,0.1,0.0,0.0],
[4.1,-0.8,7.0,1.6,3.4,2.2,0.4,0.3,0.9,0.3,0.2,0.2,-0.3,0.2,-0.2,0.1,-0.1,-0.1,0.2,0.0,0.1,0.0,0.0,0.0],
[2.5,-1.0,3.3,1.4,1.8,1.5,0.5,0.6,0.9,0.4,0.3,0.2,5.0,0.9,0.3,0.1,0.4,0.2,0.1,0.0,0.1,0.0,0.0,0.0],
[2.7,-1.2,3.1,1.5,1.6,1.3,0.3,0.4,0.8,0.3,0.2,0.2,2.5,2.4,0.6,0.2,0.1,-0.1,0.3,0.1,0.0,0.1,0.0,0.0],
[3.1,-0.6,3.5,1.2,1.9,1.0,0.1,0.2,0.7,0.3,0.2,0.2,2.5,0.0,-0.4,0.2,-0.2,0.1,0.2,-0.1,0.1,0.0,0.05,0.0],
[2.9,-1.8,2.9,1.1,1.4,1.2,-0.2,0.5,0.8,0.4,0.3,0.2,1.7,2.05,0.6,-0.3,0.3,0.4,-0.1,0.2,0.0,0.0,0.0,0.0],
[3.4,-0.9,3.6,1.6,2.1,1.4,0.7,0.1,1.0,0.4,0.2,0.2,1.2,1.3,1.8,0.5,-0.1,0.2,0.0,0.1,-0.1,0.1,0.0,0.0],
[2.6,-1.1,3.2,1.3,1.7,1.1,0.2,-0.1,0.7,0.3,0.2,0.2,-2.85,-2.2,-0.2,0.4,0.6,-0.8,0.2,-0.4,0.0,-0.1,0.0,0.0],
[3.0,-1.4,3.0,1.0,1.5,0.9,-0.1,-0.3,0.6,0.2,0.2,0.1,-1.9,-1.8,0.0,-0.9,-1.2,0.0,-0.3,0.1,-0.4,0.1,0.0,0.0],
[3.2,-0.7,3.4,1.2,2.0,1.2,0.4,0.0,0.9,0.3,0.2,0.2,-0.5,-2.7,-0.3,0.4,1.7,-0.3,-0.8,0.1,0.2,0.0,0.05,0.0],
[2.8,-1.5,3.1,1.4,1.6,1.0,0.1,0.3,0.8,0.3,0.2,0.2,-1.45,-1.0,-0.5,-2.15,0.3,-1.2,0.2,-0.4,0.1,-0.1,0.0,0.0],
[3.5,-1.0,3.7,1.1,1.8,1.3,0.5,0.2,0.8,0.4,0.3,0.2,0.3,0.5,1.1,1.38,0.5,0.8,0.1,0.4,0.2,0.0,0.0,0.0],
[2.7,-1.3,3.3,1.3,1.7,0.8,-0.3,-0.2,0.6,0.2,0.1,0.2,0.2,-0.3,0.4,-0.6,-2.6,-1.1,0.1,-0.2,-0.2,-0.6,-0.1,0.0],
[3.3,-0.8,2.9,1.5,2.2,1.6,0.6,0.7,1.0,0.4,0.3,0.2,-0.4,0.4,-0.1,0.7,2.25,0.5,0.1,0.4,0.2,0.0,0.1,0.0],
[3.1,-1.1,3.5,1.0,1.9,1.1,0.3,0.1,0.7,0.3,0.2,0.1,0.1,-0.2,-1.47,0.6,1.7,1.1,0.0,0.7,0.2,0.1,0.0,0.0],
[2.9,-1.6,3.2,1.2,1.5,0.9,0.0,0.4,0.8,0.3,0.2,0.2,0.3,0.2,0.4,0.5,0.8,1.4,0.3,0.0,-0.2,0.1,0.0,0.0],
[3.2,-0.9,3.0,1.4,1.7,1.2,0.2,-0.1,0.6,0.2,0.2,0.2,-0.1,0.3,0.2,0.0,0.4,-1.6,0.3,-0.2,0.1,0.0,0.0,0.0],
[2.8,-1.2,3.6,1.1,1.6,1.0,0.4,0.3,0.9,0.4,0.3,0.2,0.2,0.0,0.1,0.3,0.2,0.5,1.25,1.08,0.0,0.1,0.05,0.0],
[3.0,-1.7,3.1,1.3,2.0,0.8,-0.2,0.2,0.7,0.3,0.2,0.1,0.0,0.4,-0.3,0.3,-0.2,0.2,-1.8,-1.0,-0.8,-0.3,0.0,0.0],
[3.4,-0.5,3.4,1.2,1.4,1.4,0.1,0.0,0.8,0.3,0.2,0.2,-0.2,-0.1,0.2,0.0,0.3,-0.3,-1.5,-0.6,-0.3,0.1,0.0,0.0],
[2.6,-1.4,3.3,1.6,1.8,1.1,0.6,0.5,0.9,0.4,0.3,0.2,0.1,0.2,0.0,0.2,-0.1,0.1,-0.2,-1.76,0.5,0.45,0.1,0.0],
[3.1,-1.0,3.0,1.0,1.7,0.7,0.2,0.4,0.7,0.3,0.2,0.2,0.3,-0.3,0.3,-0.1,0.1,-0.4,0.3,-1.3,0.2,-0.6,0.35,0.05]
];
const outlierColors = ['#ff0000','#008000','#404040','#bfbf00','#ff0000','#00bfbf','#0000ff','#0000ff','#008000','#0000ff','#008000','#404040','#bf00bf','#008000','#008000','#0000ff','#00bfbf','#ff0000','#404040','#bf00bf','#0000ff','#bfbf00','#bfbf00','#00bfbf','#0000ff','#bf00bf','#008000','#ff0000','#bfbf00','#008000','#0000ff','#0000ff','#ff0000','#404040','#bf00bf','#008000','#0000ff','#ff0000','#0000ff','#0000ff','#0000ff','#404040','#ff0000','#bf00bf'];

const bandLines = [...lowLines, ...midLines, ...wideLines, ...highLines];

function toDataset(row, color) {
    return {
        data: row.map((v, j) => ({x: featureNumbers[j], y: v})),
        borderColor: color,
        borderWidth: 1.4,
        pointRadius: 0,
        tension: 0,
        fill: false
    };
}
const datasets = [
    ...bandLines.map((row, i) => toDataset(row, lineColors[i % lineColors.length])),
    ...outlierLines.map((row, i) => toDataset(row, outlierColors[i]))
];

// box and inward ticks on all four sides, like the original figure
const boxTicks = {
    id: 'boxTicks',
    beforeDraw(chart) {
        const c = chart.ctx;
        c.save();
        c.fillStyle = '#c8c8c8';
        c.fillRect(0, 0, chart.width, chart.height);
        const a = chart.chartArea;
        c.fillStyle = '#fff';
        c.fillRect(a.left, a.top, a.right - a.left, a.bottom - a.top);
        c.restore();
    },
    afterDraw(chart) {
        const c = chart.ctx;
        const a = chart.chartArea;
        c.save();
        c.strokeStyle = '#2a2a2a';
        c.lineWidth = 1.6;
        c.strokeRect(a.left, a.top, a.right - a.left, a.bottom - a.top);
        c.lineWidth = 1.2;
        c.beginPath();
        xTickValues.forEach(v => {
            const p = chart.scales.x.getPixelForValue(v);
            c.moveTo(p, a.bottom); c.lineTo(p, a.bottom - 7);
            c.moveTo(p, a.top); c.lineTo(p, a.top + 7);
        });
        yTickValues.forEach(v => {
            const p = chart.scales.y.getPixelForValue(v);
            c.moveTo(a.left, p); c.lineTo(a.left + 7, p);
            c.moveTo(a.right, p); c.lineTo(a.right - 7, p);
        });
        c.stroke();
        c.restore();
    }
};

const tickFont = {family: '"Liberation Sans", sans-serif', size: 18, weight: 'bold'};
const wideFont = size => ({family: '"DejaVu Sans", sans-serif', size: size, weight: 'bold'});

new Chart(document.getElementById('lpcc-chart').getContext('2d'), {
    type: 'line',
    data: {datasets: datasets},
    plugins: [boxTicks],
    options: {
        responsive: false,
        animation: false,
        layout: {padding: {right: 12}},
        plugins: {
            legend: {display: false},
            tooltip: {enabled: false},
            title: {
                display: true,
                text: 'Feature vectors using LPCC',
                color: '#111',
                fullSize: false,
                font: wideFont(17),
                padding: {top: 5, bottom: 9.6}
            }
        },
        scales: {
            x: {
                type: 'linear',
                min: 0,
                max: 25,
                grid: {display: false},
                border: {display: false},
                ticks: {stepSize: 5, color: '#111', font: tickFont, padding: -2, maxRotation: 0},
                title: {display: true, text: 'Feature Number', color: '#111', font: wideFont(17), padding: {top: 0, bottom: 0}},
                afterFit(s) { s.height = 49; }
            },
            y: {
                min: -6,
                max: 8,
                grid: {display: false},
                border: {display: false},
                ticks: {stepSize: 2, color: '#111', font: tickFont, padding: -1},
                title: {display: true, text: 'Feature Value', color: '#111', font: {family: '"Liberation Sans", sans-serif', size: 18, weight: 'bold'}, padding: {top: 11, bottom: 0}},
                afterFit(s) { s.width = 66; }
            }
        }
    }
});
</script>
</body>
</html>
